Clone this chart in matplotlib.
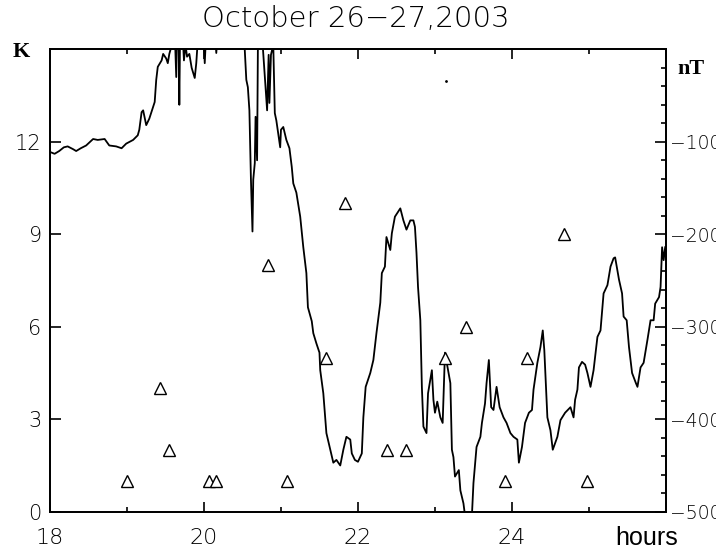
import matplotlib
matplotlib.use("Agg")
import matplotlib.pyplot as plt
import numpy as np
from matplotlib.ticker import MultipleLocator, FixedLocator

# magnetic field trace (hours, nT); values above 0 / below -500 run off the frame
hours = [18.00, 18.06, 18.12, 18.18, 18.23, 18.30, 18.34, 18.40, 18.47, 18.56,
         18.62, 18.71, 18.77, 18.86, 18.93, 18.99, 19.08, 19.14, 19.16, 19.19,
         19.21, 19.25, 19.29, 19.34, 19.36, 19.38, 19.40, 19.45, 19.47, 19.51,
         19.53, 19.55, 19.58, 19.62, 19.64, 19.65, 19.67, 19.68, 19.69, 19.72,
         19.74, 19.76, 19.78, 19.81, 19.84, 19.88, 19.90, 19.92, 19.99, 20.01,
         20.03, 20.14, 20.16, 20.18, 20.50, 20.53, 20.55, 20.57, 20.59, 20.61,
         20.63, 20.64, 20.66, 20.67, 20.69, 20.70, 20.75, 20.82, 20.84, 20.85,
         20.87, 20.90, 20.92, 20.94, 20.99, 21.00, 21.03, 21.07, 21.11, 21.14,
         21.16, 21.20, 21.25, 21.29, 21.33, 21.35, 21.40, 21.42, 21.46, 21.50,
         21.51, 21.55, 21.59, 21.64, 21.68, 21.72, 21.77, 21.81, 21.85, 21.90,
         21.92, 21.96, 22.00, 22.05, 22.07, 22.10, 22.16, 22.20, 22.24, 22.29,
         22.31, 22.35, 22.37, 22.42, 22.44, 22.48, 22.55, 22.59, 22.63, 22.68,
         22.72, 22.74, 22.76, 22.78, 22.81, 22.83, 22.85, 22.89, 22.91, 22.96,
         22.98, 23.00, 23.03, 23.07, 23.10, 23.11, 23.13, 23.17, 23.20, 23.22,
         23.24, 23.26, 23.31, 23.33, 23.37, 23.39, 23.43, 23.48, 23.50, 23.54,
         23.59, 23.61, 23.65, 23.67, 23.70, 23.73, 23.76, 23.80, 23.84, 23.89,
         23.93, 23.98, 24.02, 24.07, 24.09, 24.13, 24.17, 24.22, 24.26, 24.28,
         24.33, 24.37, 24.40, 24.42, 24.46, 24.50, 24.53, 24.59, 24.63, 24.69,
         24.76, 24.80, 24.82, 24.85, 24.87, 24.91, 24.95, 24.98, 25.02, 25.06,
         25.11, 25.15, 25.19, 25.24, 25.28, 25.32, 25.34, 25.39, 25.43, 25.45,
         25.49, 25.52, 25.56, 25.61, 25.63, 25.67, 25.71, 25.76, 25.80, 25.84,
         25.86, 25.91, 25.93, 25.95, 25.97, 25.99]
field = [-111, -113, -110, -106, -105, -108, -110, -107, -104, -97,
         -98, -97, -104, -105, -107, -102, -98, -93, -87, -68,
         -66, -82, -75, -62, -57, -33, -19, -12, -5, -10,
         -15, -5, 4, 20, -30, 20, 20, -60, 20, 20,
         -12, 5, -8, -5, -20, -31, -15, 10, 20, -15,
         20, 20, -4, 20, 20, -1, -33, -41, -66, -141,
         -197, -141, -123, -73, -120, -1, 20, -66, -6, -58,
         -6, 5, -69, -77, -106, -87, -84, -98, -107, -127,
         -145, -155, -181, -214, -242, -279, -294, -307, -318, -328,
         -347, -372, -415, -433, -447, -444, -450, -433, -419, -422,
         -437, -444, -446, -437, -398, -365, -350, -336, -307, -274,
         -242, -235, -203, -217, -199, -181, -172, -185, -195, -185,
         -185, -192, -220, -257, -293, -365, -408, -415, -372, -347,
         -379, -393, -381, -398, -404, -379, -328, -347, -361, -433,
         -441, -462, -455, -477, -491, -504, -531, -504, -469, -430,
         -419, -404, -383, -361, -336, -387, -390, -365, -387, -398,
         -404, -415, -419, -422, -447, -430, -404, -393, -390, -368,
         -339, -322, -304, -325, -398, -412, -433, -419, -401, -393,
         -387, -398, -379, -368, -344, -338, -341, -350, -365, -347,
         -311, -304, -264, -255, -235, -226, -225, -249, -264, -289,
         -293, -322, -350, -361, -365, -344, -339, -314, -293, -293,
         -275, -268, -257, -214, -228, -214]
stray_hours = [23.14]
stray_field = [-34]

# K index markers
k_hours = [19.00, 19.43, 19.55, 20.06, 20.16, 20.83, 21.08, 21.58, 21.83,
           22.38, 22.62, 23.13, 23.40, 23.91, 24.19, 24.68, 24.97]
k_vals = [1, 4, 2, 1, 1, 8, 1, 5, 10, 2, 2, 5, 6, 1, 5, 9, 1]

thin = dict(family="DejaVu Sans", fontweight="light")

fig = plt.figure(figsize=(7.16, 5.52), dpi=100)
ax = fig.add_axes([0.0698, 0.073, 0.8603, 0.8377])
ax2 = ax.twinx()

ax2.plot(hours, field, color="black", lw=1.3)
ax2.plot(stray_hours, stray_field, "k.", ms=2)
ax.plot(k_hours, k_vals, linestyle="none", marker="^", ms=8,
        mfc="white", mec="black", mew=1.0, zorder=5)
ax.set_zorder(ax2.get_zorder() + 1)
ax.patch.set_visible(False)

ax.set_xlim(18, 26)
ax.set_ylim(0, 15)
ax2.set_ylim(-500, 0)

ax.xaxis.set_major_locator(FixedLocator([18, 20, 22, 24, 26]))
ax.xaxis.set_minor_locator(MultipleLocator(1))
ax.set_xticklabels(["18", "20", "22", "24", ""], fontsize=16, **thin)
ax.yaxis.set_major_locator(FixedLocator([0, 3, 6, 9, 12]))
ax.set_yticklabels(["0", "3", "6", "9", "12"], fontsize=15, **thin)
ax.tick_params(axis="x", which="major", direction="in", length=7, width=1.2,
               top=True, pad=12)
ax.tick_params(axis="x", which="minor", direction="in", length=3.5, width=1.2,
               top=True)
ax.tick_params(axis="y", which="major", direction="in", length=8, width=1.2,
               right=False, pad=6)

ax2.yaxis.set_major_locator(FixedLocator([-500, -400, -300, -200, -100]))
ax2.yaxis.set_minor_locator(MultipleLocator(20))
ax2.set_yticklabels(["\u2212500", "\u2212400", "\u2212300", "\u2212200", "\u2212100"],
                    fontsize=13.5, **thin)
ax2.tick_params(axis="y", which="major", direction="in", length=8, width=1.2, pad=3)
ax2.tick_params(axis="y", which="minor", direction="in", length=3.5, width=1.2)

for a in (ax, ax2):
    for s in a.spines.values():
        s.set_linewidth(1.3)

fig.text(0.497, 0.965, "October 26\u221227,2003", ha="center", va="center",
         fontsize=21, **thin)
fig.text(0.029, 0.906, "K", ha="center", va="center", fontsize=16,
         family="Liberation Serif", fontweight="bold")
fig.text(0.965, 0.875, "nT", ha="center", va="center", fontsize=16,
         family="Liberation Serif", fontweight="bold")
ax.text(25.75, -0.85, "hours", ha="center", va="center", fontsize=18,
        family="Liberation Sans")

fig.savefig("out.png", dpi=100)
